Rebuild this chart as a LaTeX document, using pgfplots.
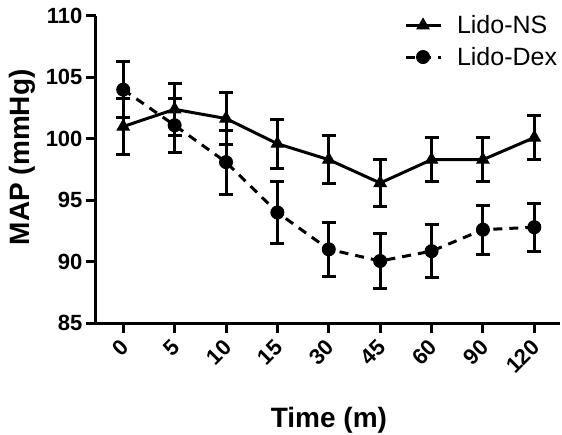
\documentclass[border=0pt]{standalone}
\usepackage{pgfplots}
\pgfplotsset{compat=1.18}
\usepackage{fontspec}
\setmainfont{Liberation Sans}

\begin{document}
\begin{tikzpicture}
\useasboundingbox (-96pt,-111pt) rectangle (466pt,323pt);
\begin{axis}[
  scale only axis,
  width=464pt, height=307pt,
  anchor=south west, at={(0,0)},
  xmin=-0.53, xmax=8.5,
  ymin=85, ymax=110,
  ytick={85,90,...,110},
  xtick={0,...,8},
  xticklabels={0,5,10,15,30,45,60,90,120},
  axis lines*=left,
  axis line style={line width=3pt},
  tick align=outside,
  major tick length=10pt,
  tick style={line width=3pt, black},
  /pgf/number format/assume math mode=true,
  tick label style={font=\fontsize{22}{26}\selectfont\bfseries},
  xticklabel style={xshift=4pt, yshift=-8pt, rotate=45, anchor=east},
  label style={font=\fontsize{28}{32}\selectfont\bfseries},
  xlabel={Time (m)},
  ylabel={MAP (mmHg)},
  xlabel style={at={(axis description cs:0.502,-0.342)}, anchor=base},
  ylabel style={at={(axis description cs:-0.159,0.54)}, anchor=center},
  legend style={at={(axis description cs:0.657,1.015)}, anchor=north west,
    draw=none, fill=none, font=\fontsize{25}{29}\selectfont,
    row sep=8pt},
  legend cell align=left,
  legend image code/.code={
    \draw[mark repeat=2, mark phase=2] plot coordinates {(0pt,0pt) (17.5pt,0pt) (35pt,0pt)};
    \path (0pt,0pt) (48pt,0pt);
  },
  clip=false,
]
\addplot[black, line width=3pt, mark=triangle*, mark size=7pt, mark options={solid, line width=1pt},
  error bars/.cd, y dir=both, y explicit,
  error bar style={line width=3pt, solid},
  error mark options={rotate=90, mark size=7pt, line width=3pt, solid}]
  coordinates {
  (0,101.0) +- (0,2.3)
  (1,102.4) +- (0,2.1)
  (2,101.65) +- (0,2.15)
  (3,99.6) +- (0,2.0)
  (4,98.3) +- (0,1.95)
  (5,96.4) +- (0,1.9)
  (6,98.3) +- (0,1.8)
  (7,98.3) +- (0,1.8)
  (8,100.1) +- (0,1.8)
};
\addplot[black, line width=3pt, dash pattern=on 9pt off 7pt, mark=*, mark size=6.5pt, mark options={solid, line width=1pt},
  error bars/.cd, y dir=both, y explicit,
  error bar style={line width=3pt, solid},
  error mark options={rotate=90, mark size=7pt, line width=3pt, solid}]
  coordinates {
  (0,104.0) +- (0,2.3)
  (1,101.1) +- (0,2.2)
  (2,98.1) +- (0,2.6)
  (3,94.0) +- (0,2.5)
  (4,91.0) +- (0,2.2)
  (5,90.05) +- (0,2.2)
  (6,90.85) +- (0,2.15)
  (7,92.6) +- (0,2.0)
  (8,92.8) +- (0,1.95)
};
\legend{Lido-NS, Lido-Dex}
\end{axis}
\end{tikzpicture}
\end{document}
